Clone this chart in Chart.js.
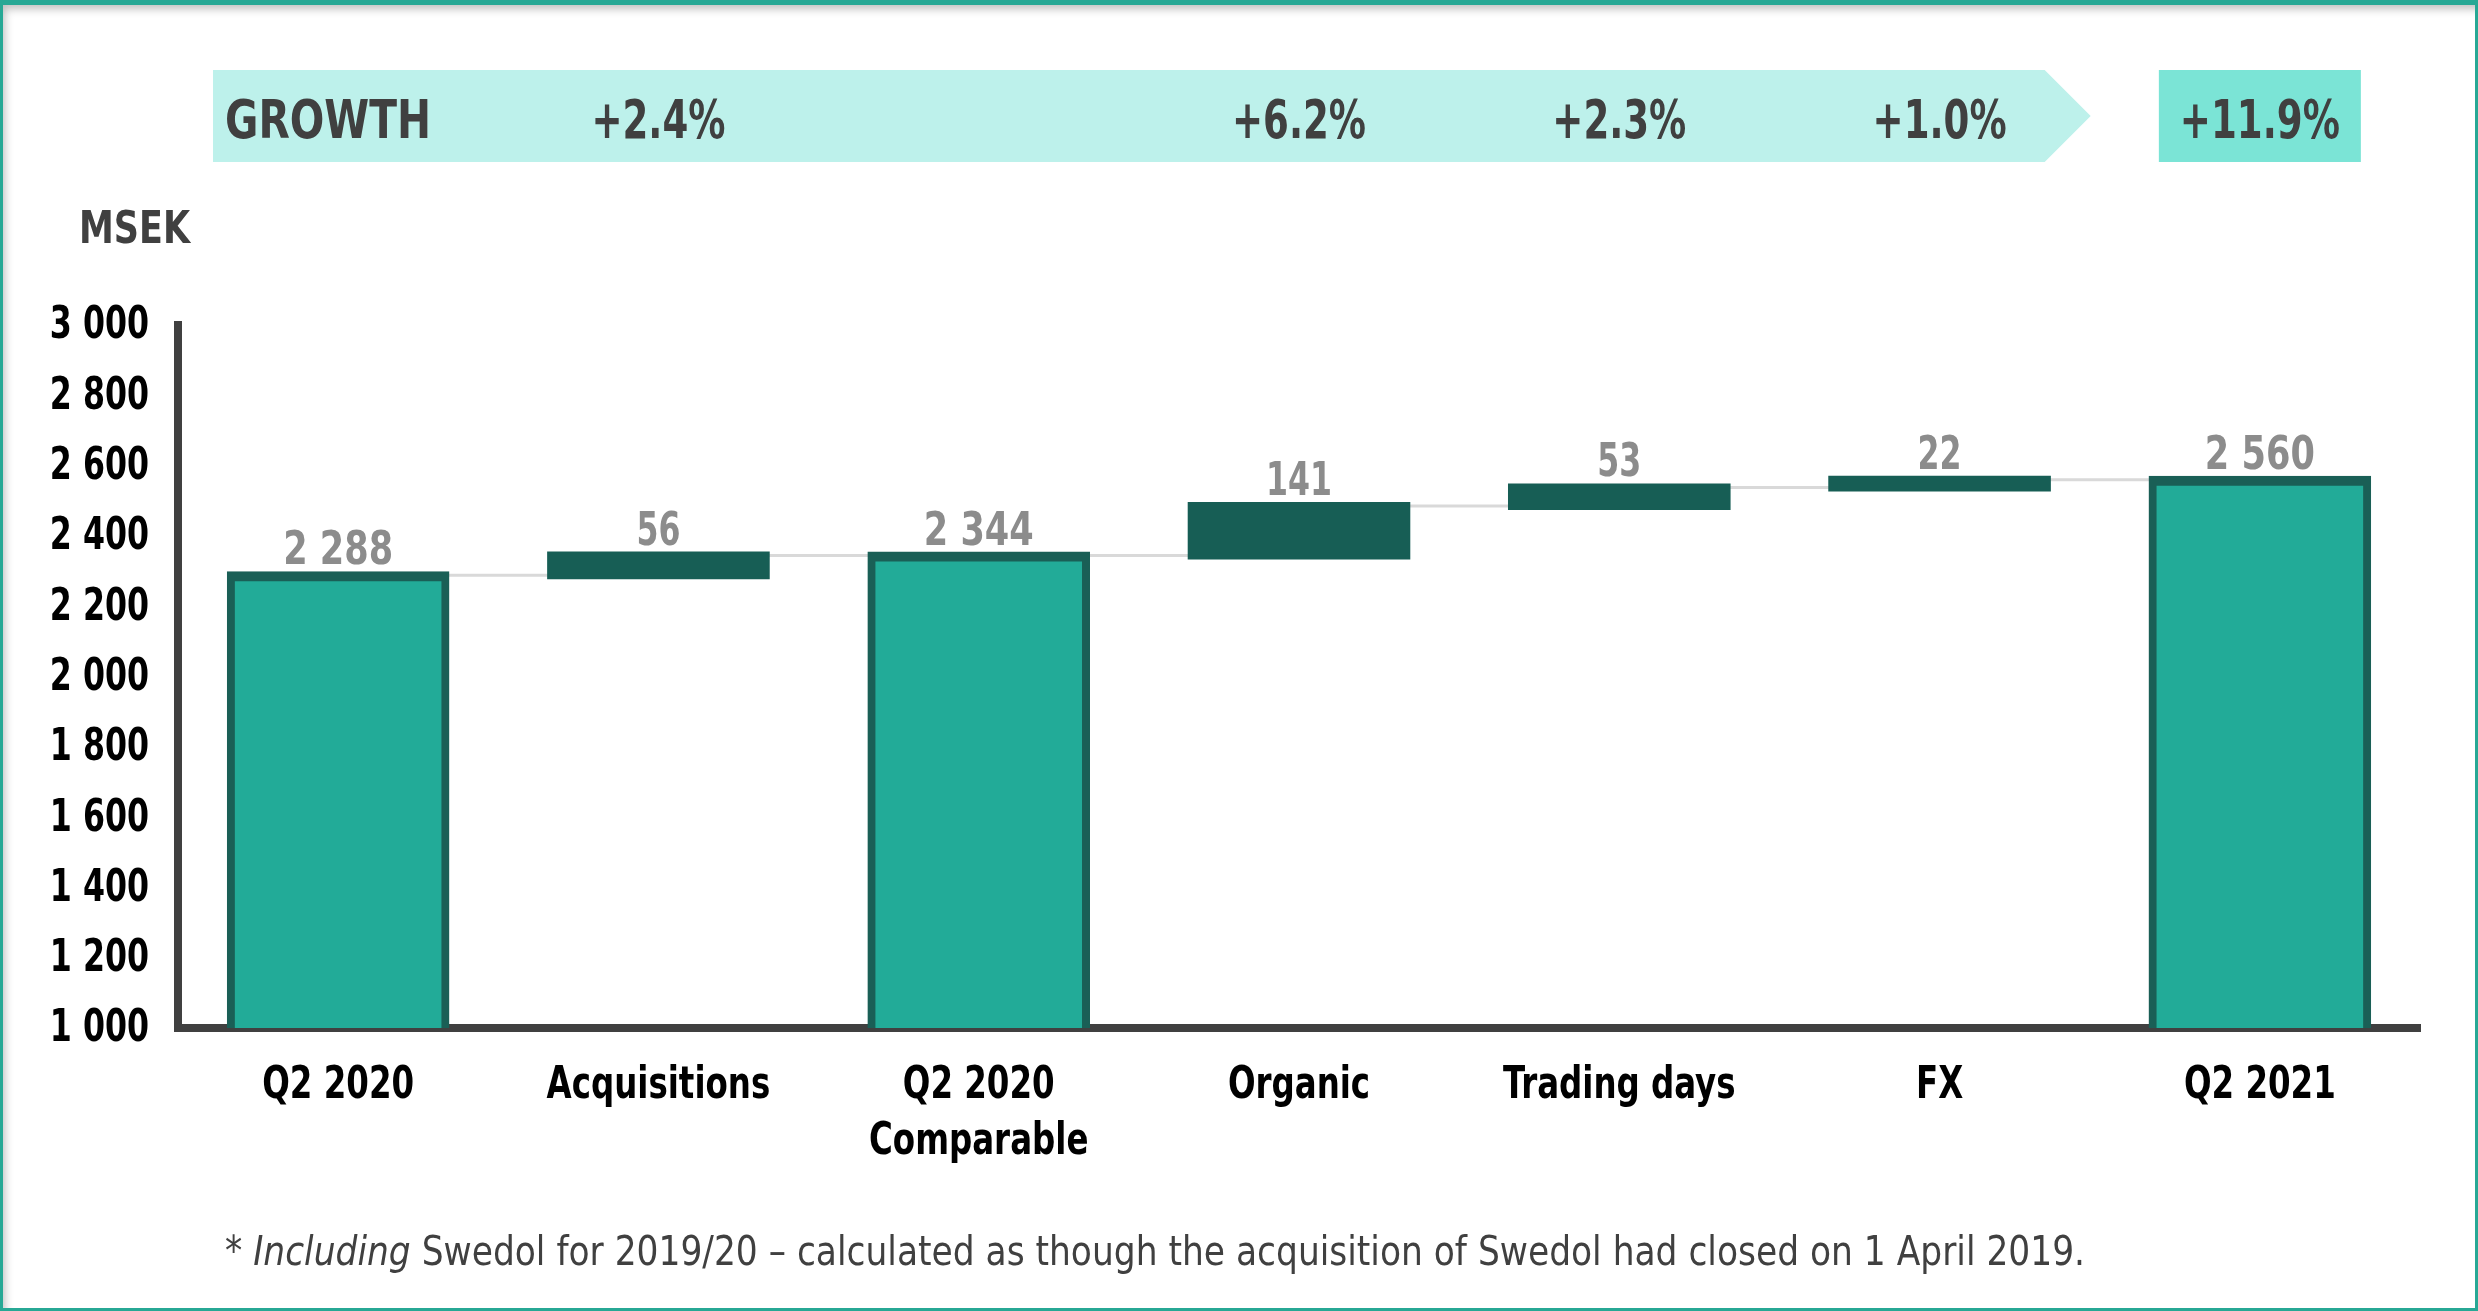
<!DOCTYPE html>
<html>
<head>
<meta charset="utf-8">
<script src="https://cdn.jsdelivr.net/npm/chart.js@4.4.0/dist/chart.umd.min.js"></script>
<style>
  html, body { margin: 0; padding: 0; background: #fff; }
  #wrap { position: relative; width: 2478px; height: 1311px; overflow: hidden; }
  #chart { position: absolute; left: 0; top: 0; }
  #frame {
    position: absolute; left: 0; top: 0; width: 2478px; height: 1311px; box-sizing: border-box;
    border-style: solid; border-color: #27a895; border-width: 5px 3px 3px 3px;
    box-shadow: inset 6px 8px 8px -4px rgba(0,0,0,0.25);
    pointer-events: none;
  }
</style>
</head>
<body>
<div id="wrap">
  <canvas id="chart" width="2478" height="1311"></canvas>
  <div id="frame"></div>
</div>
<script>
// categories and values
const categories = ['Q2 2020', 'Acquisitions', ['Q2 2020', 'Comparable'], 'Organic', 'Trading days', 'FX', 'Q2 2021'];
const steps = [2288, 56, 2344, 141, 53, 22, 2560];
const isTotal = [true, false, true, false, false, false, true];
const growth = ['', '+2.4%', '', '+6.2%', '+2.3%', '+1.0%', '+11.9%'];
const yMin = 1000;
const yMax = 3000;
const yStep = 200;

const FONT = "'Liberation Sans Narrow', 'DejaVu Sans Condensed', 'Liberation Sans', sans-serif";
const fmt = v => String(v).replace(/\B(?=(\d{3})+(?!\d))/g, ' ');

// running totals -> floating bars
let run = 0;
const ranges = steps.map((v, i) => {
    if (isTotal[i]) { run = v; return [yMin, v]; }
    const r = [run, run + v];
    run += v;
    return r;
});

// draw text squeezed to a target width (source font is Calibri-like and narrow)
function fitText(ctx, txt, x, y, maxW) {
    const w = ctx.measureText(txt).width;
    const k = maxW && w > maxW ? maxW / w : 1;
    ctx.save();
    ctx.translate(x, y);
    ctx.scale(k, 1);
    ctx.fillText(txt, 0, 0);
    ctx.restore();
    return w * k;
}
function squeeze(ctx, txt, x, y, k) {
    ctx.save();
    ctx.translate(x, y);
    ctx.scale(k, 1);
    ctx.fillText(txt, 0, 0);
    ctx.restore();
}

const extras = {
    id: 'extras',
    beforeDraw(chart) {
        const ctx = chart.ctx;
        const xs = chart.scales.x;
        ctx.save();
        // growth banner (arrow)
        const tip = (xs.getPixelForValue(5) + xs.getPixelForValue(6)) / 2 - 9;
        ctx.fillStyle = '#bdf1eb';
        ctx.beginPath();
        ctx.moveTo(213, 70);
        ctx.lineTo(tip - 46, 70);
        ctx.lineTo(tip, 116);
        ctx.lineTo(tip - 46, 162);
        ctx.lineTo(213, 162);
        ctx.closePath();
        ctx.fill();
        // total box
        const bx = xs.getPixelForValue(6);
        ctx.fillStyle = '#7be4d6';
        ctx.fillRect(bx - 101, 70, 202, 92);

        ctx.fillStyle = '#404040';
        ctx.font = 'bold 53px ' + FONT;
        ctx.textBaseline = 'alphabetic';
        ctx.textAlign = 'left';
        fitText(ctx, 'GROWTH', 225, 138, 206);
        ctx.textAlign = 'center';
        growth.forEach((g, i) => {
            if (!g) return;
            fitText(ctx, g, xs.getPixelForValue(i), 138, g.length > 5 ? 160 : 134);
        });

        ctx.textAlign = 'left';
        ctx.font = 'bold 44px ' + FONT;
        fitText(ctx, 'MSEK', 79, 243, 111);

        // footnote
        const parts = [['* ', ''], ['Including', 'italic '], [' Swedol for 2019/20 \u2013 calculated as though the acquisition of Swedol had closed on 1 April 2019.', '']];
        let total = 0;
        parts.forEach(p => { ctx.font = p[1] + '40px ' + FONT; total += ctx.measureText(p[0]).width; });
        const k = Math.min(1, 1860 / total);
        let px = 225;
        parts.forEach(p => {
            ctx.font = p[1] + '40px ' + FONT;
            const w = ctx.measureText(p[0]).width;
            fitText(ctx, p[0], px, 1265, w * k);
            px += w * k;
        });
        ctx.restore();
    },
    beforeDatasetsDraw(chart) {
        // connector lines between bars
        const ctx = chart.ctx;
        const ys = chart.scales.y;
        const bars = chart.getDatasetMeta(0).data;
        ctx.save();
        ctx.strokeStyle = '#d9d9d9';
        ctx.lineWidth = 3;
        for (let i = 0; i < bars.length - 1; i++) {
            const y = ys.getPixelForValue(ranges[i][1]);
            ctx.beginPath();
            ctx.moveTo(bars[i].x + bars[i].width / 2, y);
            ctx.lineTo(bars[i + 1].x - bars[i + 1].width / 2, y);
            ctx.stroke();
        }
        ctx.restore();
    },
    afterDatasetsDraw(chart) {
        // value labels
        const ctx = chart.ctx;
        const ys = chart.scales.y;
        const bars = chart.getDatasetMeta(0).data;
        ctx.save();
        ctx.fillStyle = '#8c8c8c';
        ctx.font = 'bold 46px ' + FONT;
        ctx.textAlign = 'center';
        ctx.textBaseline = 'alphabetic';
        bars.forEach((b, i) => {
            const t = fmt(steps[i]);
            fitText(ctx, t, b.x, ys.getPixelForValue(ranges[i][1]) - 11, t.length * 22);
        });
        ctx.restore();
    },
    afterDraw(chart) {
        // axis tick labels, narrowed to match the condensed source font
        const ctx = chart.ctx;
        const xs = chart.scales.x;
        const ys = chart.scales.y;
        ctx.save();
        ctx.fillStyle = '#000';
        ctx.font = 'bold 44px ' + FONT;
        ctx.textAlign = 'right';
        ctx.textBaseline = 'middle';
        ys.ticks.forEach((t, i) => {
            squeeze(ctx, fmt(t.value), chart.chartArea.left - 29, ys.getPixelForTick(i) + 2, 0.8);
        });
        ctx.textAlign = 'center';
        ctx.textBaseline = 'alphabetic';
        xs.ticks.forEach((t, i) => {
            const lines = [].concat(categories[i]);
            lines.forEach((ln, j) => {
                squeeze(ctx, ln, xs.getPixelForTick(i), 1098 + j * 56, 0.82);
            });
        });
        ctx.restore();
    }
};

new Chart(document.getElementById('chart'), {
    type: 'bar',
    data: {
        labels: categories,
        datasets: [{
            data: ranges,
            backgroundColor: isTotal.map(t => t ? '#22ab98' : '#175e55'),
            borderColor: '#1a5f56',
            borderWidth: ctx => isTotal[ctx.dataIndex] ? { top: 10, left: 8, right: 8, bottom: 0 } : 0,
            borderSkipped: false,
            inflateAmount: 4,
            categoryPercentage: 1,
            barPercentage: 0.67
        }]
    },
    options: {
        responsive: false,
        animation: false,
        layout: { padding: { left: 0, top: 325, right: 58, bottom: 0 } },
        plugins: { legend: { display: false }, tooltip: { enabled: false } },
        scales: {
            x: {
                z: 1,
                grid: { display: false, drawTicks: false },
                border: { display: true, color: '#404040', width: 8 },
                ticks: { display: false, autoSkip: false, maxRotation: 0 },
                afterFit: s => { s.height = 283; }
            },
            y: {
                min: yMin,
                max: yMax,
                grid: { display: false, drawTicks: false },
                border: { display: true, color: '#404040', width: 8 },
                ticks: { display: false, stepSize: yStep },
                afterFit: s => { s.width = 178; }
            }
        }
    },
    plugins: [extras]
});
</script>
</body>
</html>
